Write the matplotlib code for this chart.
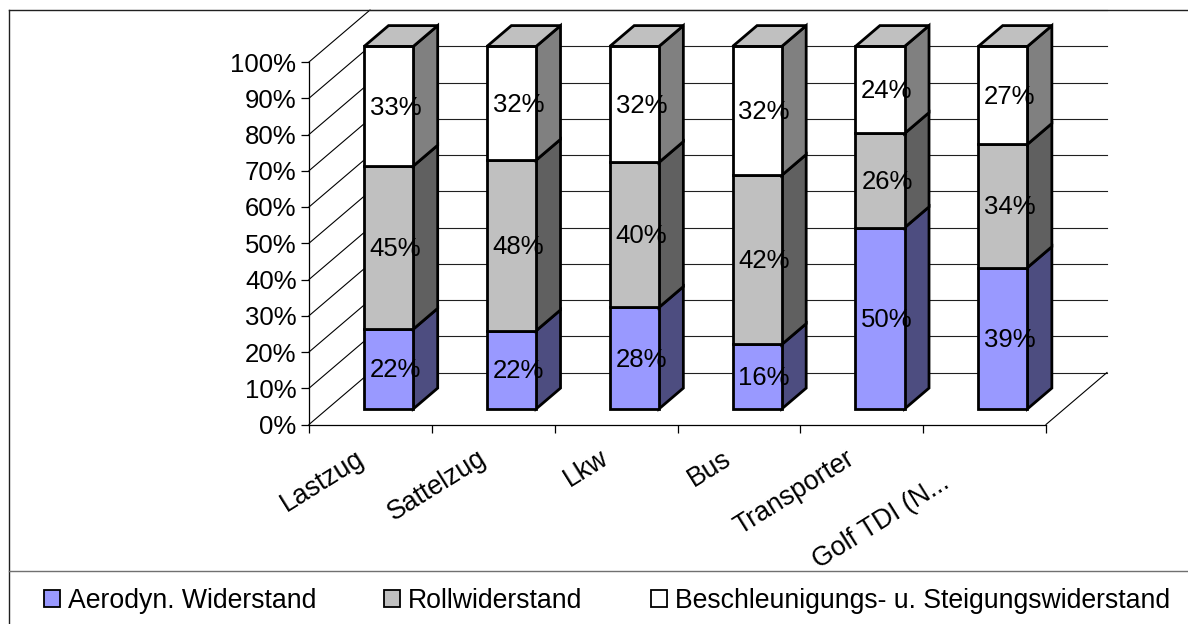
import matplotlib
matplotlib.use('Agg')
import matplotlib.pyplot as plt
from matplotlib.patches import Polygon, Patch
from matplotlib.lines import Line2D

plt.rcParams['font.family'] = ['Liberation Sans', 'DejaVu Sans']

kategorien = ['Lastzug', 'Sattelzug', 'Lkw', 'Bus', 'Transporter', 'Golf TDI (N...']
aerodyn = [22, 22, 28, 16, 50, 39]
roll = [45, 48, 40, 42, 26, 34]
beschl = [33, 32, 32, 32, 24, 27]
serien = ['Aerodyn. Widerstand', 'Rollwiderstand', 'Beschleunigungs- u. Steigungswiderstand']
y_ticks = [0, 10, 20, 30, 40, 50, 60, 70, 80, 90, 100]

farben = ['#9999FF', '#C0C0C0', '#FFFFFF']
seiten = ['#4D4D80', '#606060', '#808080']
deckel = '#C0C0C0'

W, H = 1188, 624
FS = 18.5
FS2 = 19.2
fig = plt.figure(figsize=(W / 100, H / 100), dpi=100)
ax = fig.add_axes([309 / W, (H - 424.5) / H, 737 / W, 362.5 / H])
ax.set_xlim(0, 6)
ax.set_ylim(0, 100)

# Tiefe der 3D-Ansicht in Datenkoordinaten
TX = 61 / (737 / 6)
TY = 52 / 3.625


def proj(x, y, t):
    return (x + t * TX, y + t * TY)


def fl(pts, **kw):
    ax.add_patch(Polygon(pts, closed=True, clip_on=False, **kw))


# Waende und Gitter
for v in y_ticks:
    a = proj(0, v, 0)
    b = proj(0, v, 1)
    c = proj(6, v, 1)
    ax.plot([a[0], b[0]], [a[1], b[1]], color='black', lw=0.8, clip_on=False, zorder=1)
    ax.plot([b[0], c[0]], [b[1], c[1]], color='#202020', lw=0.8, clip_on=False, zorder=1)
a = proj(6, 0, 0)
b = proj(6, 0, 1)
ax.plot([a[0], b[0]], [a[1], b[1]], color='black', lw=0.8, clip_on=False, zorder=1)

# Balken
breite = 0.4
for i in range(len(kategorien)):
    werte = [aerodyn[i], roll[i], beschl[i]]
    summe = sum(werte)
    x0 = i + 0.5 - breite / 2
    x1 = i + 0.5 + breite / 2
    unten = 0
    for s, w in enumerate(werte):
        oben = unten + w / summe * 100
        kw = dict(edgecolor='black', linewidth=2.0, joinstyle='miter', zorder=3)
        fl([proj(x1, unten, 0.3), proj(x1, unten, 0.7), proj(x1, oben, 0.7), proj(x1, oben, 0.3)],
           facecolor=seiten[s], **kw)
        fl([proj(x0, unten, 0.3), proj(x1, unten, 0.3), proj(x1, oben, 0.3), proj(x0, oben, 0.3)],
           facecolor=farben[s], **kw)
        if s == 2:
            fl([proj(x0, oben, 0.3), proj(x1, oben, 0.3), proj(x1, oben, 0.7), proj(x0, oben, 0.7)],
               facecolor=deckel, **kw)
        ax.annotate('%d%%' % w, proj(i + 0.5, (unten + oben) / 2, 0.3), xytext=(5, -1),
                    textcoords='offset points', ha='center', va='center',
                    fontsize=FS, color='black', zorder=5, annotation_clip=False)
        unten = oben

# Achsen
for sp in ['top', 'right']:
    ax.spines[sp].set_visible(False)
for sp in ['left', 'bottom']:
    ax.spines[sp].set_linewidth(0.9)
ax.patch.set_visible(False)
ax.set_yticks(y_ticks)
ax.set_yticklabels(['%d%%' % v for v in y_ticks], fontsize=FS)
ax.set_xticks(range(7))
ax.set_xticklabels([])
ax.tick_params(axis='both', length=5.5, width=0.9, pad=3.5)

# Achsenbeschriftung, schraeg wie im Original
versatz = [-6, -7, -7, -7, -7, -27]
hoehe = [-23, -23, -23, -23, -23, -40]
for i, k in enumerate(kategorien):
    ax.annotate(k, (i + 0.5, 0), xytext=(versatz[i], hoehe[i]), textcoords='offset points',
                ha='right', va='center', rotation=32, rotation_mode='anchor',
                fontsize=FS2, annotation_clip=False)

# Rahmen
rahmen = dict(transform=fig.transFigure, clip_on=False)
fig.add_artist(Line2D([9 / W, 9 / W], [0, 1 - 10 / H], color='#202020', lw=1.0, **rahmen))
fig.add_artist(Line2D([9 / W, 1], [1 - 10 / H, 1 - 10 / H], color='#202020', lw=1.0, **rahmen))
fig.add_artist(Line2D([9 / W, 1], [1 - 571 / H, 1 - 571 / H], color='#707070', lw=1.0, **rahmen))

griffe = [Patch(facecolor=farben[j], edgecolor='black', linewidth=1.3, label=serien[j]) for j in range(3)]
fig.legend(handles=griffe, loc='lower left', bbox_to_anchor=(44 / W, 10 / H), ncol=3, frameon=False,
           fontsize=FS2, borderpad=0, borderaxespad=0, handlelength=0.6, handleheight=0.6,
           handletextpad=0.3, columnspacing=2.55)

fig.savefig('out.png', dpi=100)
